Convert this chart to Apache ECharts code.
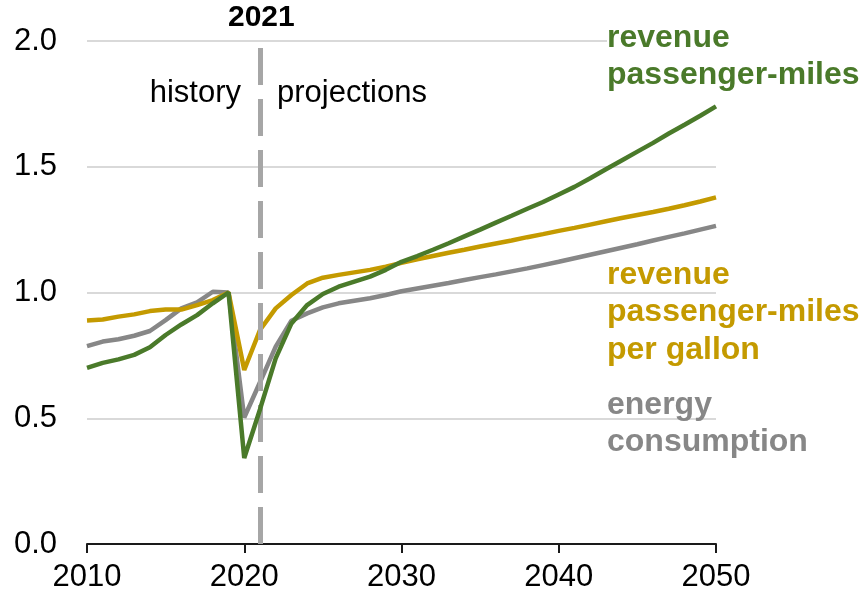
<!DOCTYPE html>
<html>
<head>
<meta charset="utf-8">
<script src="https://cdn.jsdelivr.net/npm/echarts@6/dist/echarts.min.js"></script>
<style>
html,body{margin:0;padding:0;background:#fff;}
#chart{width:863px;height:596px;}
</style>
</head>
<body>
<div id="chart"></div>
<script>
const years = [2010,2011,2012,2013,2014,2015,2016,2017,2018,2019,2020,2021,2022,2023,2024,2025,2026,2027,2028,2029,2030,2031,2032,2033,2034,2035,2036,2037,2038,2039,2040,2041,2042,2043,2044,2045,2046,2047,2048,2049,2050];
const revenuePassengerMiles = [0.700,0.720,0.734,0.752,0.782,0.831,0.873,0.910,0.957,1.000,0.342,0.535,0.738,0.877,0.950,0.994,1.023,1.043,1.063,1.090,1.122,1.145,1.170,1.196,1.223,1.250,1.278,1.305,1.333,1.360,1.390,1.420,1.454,1.490,1.525,1.560,1.595,1.632,1.667,1.703,1.740];
const rpmPerGallon = [0.889,0.893,0.904,0.913,0.926,0.932,0.932,0.950,0.970,1.000,0.692,0.851,0.937,0.990,1.036,1.059,1.070,1.080,1.090,1.103,1.118,1.132,1.145,1.158,1.170,1.183,1.195,1.207,1.220,1.232,1.245,1.257,1.270,1.283,1.296,1.308,1.320,1.333,1.347,1.362,1.378];
const energyConsumption = [0.787,0.805,0.814,0.828,0.847,0.890,0.937,0.961,1.003,1.000,0.503,0.643,0.785,0.888,0.917,0.941,0.957,0.967,0.977,0.990,1.005,1.016,1.027,1.038,1.050,1.061,1.072,1.084,1.096,1.109,1.122,1.136,1.150,1.164,1.178,1.192,1.207,1.221,1.235,1.250,1.265];
const xTicks = [2010,2020,2030,2040,2050];
const yTicks = [0,0.5,1,1.5,2];
const dividerYear = 2021;
const dividerTop = 1.972;

const GREEN = '#4a7a2a', GOLD = '#c49a00', GRAY = '#878787';
const FONT = '"Liberation Sans", Arial, sans-serif';

function pairs(vals){ return years.map((y,i)=>[y, vals[i]]); }

const chart = echarts.init(document.getElementById('chart'), null, {renderer:'canvas'});
const option = {
  animation:false,
  backgroundColor:'#ffffff',
  grid:{left:87, right:147, top:41, bottom:52, containLabel:false},
  xAxis:{
    type:'value', min:xTicks[0], max:xTicks[xTicks.length-1], interval:10,
    axisLine:{show:true, lineStyle:{color:'#1a1a1a', width:2}},
    axisTick:{show:true, length:9, lineStyle:{color:'#1a1a1a', width:2}},
    axisLabel:{fontSize:31, fontFamily:FONT, color:'#000', margin:18,
      formatter:v=>String(v)},
    splitLine:{show:false}
  },
  yAxis:{
    type:'value', min:yTicks[0], max:yTicks[yTicks.length-1], interval:0.5,
    axisLine:{show:false}, axisTick:{show:false},
    axisLabel:{fontSize:31, fontFamily:FONT, color:'#000', margin:30,
      formatter:v=>v.toFixed(1)},
    splitLine:{show:true, lineStyle:{color:'#d9d9d9', width:2}}
  },
  series:[
    {type:'line', name:'energy consumption', data:pairs(energyConsumption), showSymbol:false,
     lineStyle:{color:GRAY, width:4.5}, z:3,
     markLine:{silent:true, symbol:'none', label:{show:false},
       lineStyle:{color:'#a6a6a6', width:5, type:[37,14]},
       data:[[{coord:[dividerYear,0]},{coord:[dividerYear,dividerTop]}]]}},
    {type:'line', name:'rpm per gallon', data:pairs(rpmPerGallon), showSymbol:false,
     lineStyle:{color:GOLD, width:4.5}, z:4},
    {type:'line', name:'revenue passenger-miles', data:pairs(revenuePassengerMiles), showSymbol:false,
     lineStyle:{color:GREEN, width:4.5}, z:5}
  ],
  graphic:[
    {type:'text', left:228, top:3, z:10, style:{text:'2021', font:'bold 30px '+FONT, fill:'#000'}},
    {type:'text', right:863-241, top:78, style:{text:'history', font:'31px '+FONT, fill:'#000'}},
    {type:'text', left:277, top:78, style:{text:'projections', font:'31px '+FONT, fill:'#000'}},
    {type:'text', left:607, top:20, z:10, style:{text:'revenue\npassenger-miles', font:'bold 32px '+FONT, fill:GREEN, lineHeight:37, backgroundColor:'#ffffff'}},
    {type:'text', left:607, top:256, z:10, style:{text:'revenue\npassenger-miles\nper gallon', font:'bold 32px '+FONT, fill:GOLD, lineHeight:37.5}},
    {type:'text', left:607, top:387, z:10, style:{text:'energy\nconsumption', font:'bold 32px '+FONT, fill:GRAY, lineHeight:37}}
  ]
};
chart.setOption(option);
</script>
</body>
</html>
